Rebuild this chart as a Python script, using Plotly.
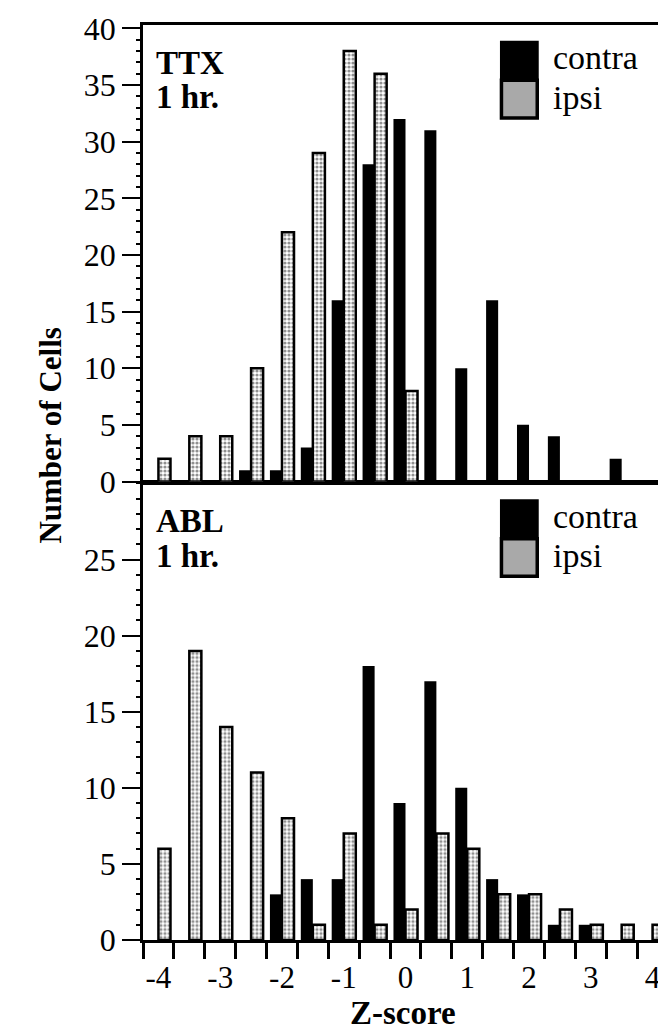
import plotly.graph_objects as go

# ---------------- data ----------------
z_bins = [-4, -3.5, -3, -2.5, -2, -1.5, -1, -0.5, 0, 0.5, 1, 1.5, 2, 2.5, 3, 3.5, 4]

ttx_contra = [0, 0, 0, 1, 1, 3, 16, 28, 32, 31, 10, 16, 5, 4, 0, 2, 0]
ttx_ipsi = [2, 4, 4, 10, 22, 29, 38, 36, 8, 0, 0, 0, 0, 0, 0, 0, 0]

abl_contra = [0, 0, 0, 0, 3, 4, 4, 18, 9, 17, 10, 4, 3, 1, 1, 0, 0]
abl_ipsi = [6, 19, 14, 11, 8, 1, 7, 1, 2, 7, 6, 3, 3, 2, 1, 1, 1]

x_tickvals = [-4, -3, -2, -1, 0, 1, 2, 3, 4]
x_ticktext = ["-4", "-3", "-2", "-1", "0", "1", "2", "3", "4"]
ttx_yticks = [0, 5, 10, 15, 20, 25, 30, 35, 40]
abl_yticks = [0, 5, 10, 15, 20, 25]

series_names = ["contra", "ipsi"]
panel_labels = [("TTX", "1 hr."), ("ABL", "1 hr.")]

# ---------------- layout geometry ----------------
W, H = 666, 1029
ML, MR, MT, MB = 135, 3, 6, 97
PW = W - ML - MR
PH = H - MT - MB

def py(pix):  # pixel y -> paper y
    return (H - MB - pix) / PH

def px(pix):  # pixel x -> paper x
    return (pix - ML) / PW

TOP_DOM = [py(468), 1.0]
BOT_DOM = [0.0, py(470)]

FONT = "Liberation Serif, Times New Roman, serif"

ipsi_marker = dict(
    color="white",
    line=dict(color="black", width=2.5),
    pattern=dict(shape=".", fgcolor="#222222", bgcolor="white", size=4, solidity=0.5),
)
contra_marker = dict(color="black", line=dict(color="black", width=0))

fig = go.Figure()
# top panel (TTX) on x2/y2
fig.add_trace(go.Bar(x=z_bins, y=ttx_contra, name=series_names[0], marker=contra_marker,
                     xaxis="x2", yaxis="y2", offsetgroup="c"))
fig.add_trace(go.Bar(x=z_bins, y=ttx_ipsi, name=series_names[1], marker=ipsi_marker,
                     xaxis="x2", yaxis="y2", offsetgroup="i"))
# bottom panel (ABL) on x/y
fig.add_trace(go.Bar(x=z_bins, y=abl_contra, name=series_names[0], marker=contra_marker,
                     xaxis="x", yaxis="y", offsetgroup="c"))
fig.add_trace(go.Bar(x=z_bins, y=abl_ipsi, name=series_names[1], marker=ipsi_marker,
                     xaxis="x", yaxis="y", offsetgroup="i"))

axis_common = dict(showline=True, linecolor="black", linewidth=2.5, mirror=True,
                   showgrid=False, zeroline=False)
xr = [-4.25, 4.25]
yminor = dict(tickmode="linear", tick0=0, dtick=1, ticks="outside",
              ticklen=4, tickwidth=1.5, tickcolor="black")

fig.update_layout(
    width=W, height=H,
    margin=dict(l=ML, r=MR, t=MT, b=MB),
    paper_bgcolor="white", plot_bgcolor="white",
    showlegend=False,
    barmode="group", bargap=0.22, bargroupgap=0.0,
    font=dict(family=FONT, color="black", size=31),
    xaxis=dict(domain=[0, 1], anchor="y", range=xr, tickmode="array",
               tickvals=x_tickvals, ticktext=x_ticktext, ticks="outside", ticklen=8,
               tickcolor="rgba(0,0,0,0)", tickfont=dict(size=31, family=FONT),
               minor=dict(tickmode="linear", tick0=-4.25, dtick=0.5, ticks="outside",
                          ticklen=16, tickwidth=2.5, tickcolor="black"),
               **axis_common),
    yaxis=dict(domain=BOT_DOM, anchor="x", range=[0, 30], tickmode="array",
               tickvals=abl_yticks, ticks="outside", ticklen=18, tickwidth=2,
               tickcolor="black", tickfont=dict(size=32, family=FONT),
               minor=yminor, **axis_common),
    xaxis2=dict(domain=[0, 1], anchor="y2", range=xr, matches="x", showticklabels=False,
                ticks="", **axis_common),
    yaxis2=dict(domain=TOP_DOM, anchor="x2", range=[0, 40.3], tickmode="array",
                tickvals=ttx_yticks, ticks="outside", ticklen=18, tickwidth=2,
                tickcolor="black", tickfont=dict(size=32, family=FONT),
                ticklabeloverflow="allow",
                minor=yminor, **axis_common),
)

annotations = []
shapes = []

# y-axis title
annotations.append(dict(text="<b>Number of Cells</b>", x=px(42), y=py(422), xref="paper",
                        yref="paper", textangle=-90, showarrow=False, xanchor="center",
                        yanchor="middle", font=dict(size=31, family=FONT)))
# x-axis title
annotations.append(dict(text="<b>Z-score</b>", x=px(396), y=py(1006), xref="paper",
                        yref="paper", showarrow=False, xanchor="center", yanchor="middle",
                        font=dict(size=33, family=FONT)))

# panel labels and legends
for (lab1, lab2), top in zip(panel_labels, [6, 470]):
    annotations.append(dict(text="<b>%s</b>" % lab1, x=px(146), y=py(top + 38), xref="paper",
                            yref="paper", showarrow=False, xanchor="left", yanchor="middle",
                            font=dict(size=33, family=FONT)))
    annotations.append(dict(text="<b>%s</b>" % lab2, x=px(146), y=py(top + 73), xref="paper",
                            yref="paper", showarrow=False, xanchor="left", yanchor="middle",
                            font=dict(size=33, family=FONT)))
    # legend swatches
    shapes.append(dict(type="rect", xref="paper", yref="paper",
                       x0=px(494), x1=px(533), y0=py(top + 16), y1=py(top + 56),
                       fillcolor="black", line=dict(color="black", width=0)))
    shapes.append(dict(type="rect", xref="paper", yref="paper",
                       x0=px(495.5), x1=px(531.5), y0=py(top + 56), y1=py(top + 94),
                       fillcolor="#a9a9a9", line=dict(color="black", width=3.5)))
    annotations.append(dict(text=series_names[0], x=px(545), y=py(top + 33), xref="paper",
                            yref="paper", showarrow=False, xanchor="left", yanchor="middle",
                            font=dict(size=34, family=FONT)))
    annotations.append(dict(text=series_names[1], x=px(545), y=py(top + 73), xref="paper",
                            yref="paper", showarrow=False, xanchor="left", yanchor="middle",
                            font=dict(size=34, family=FONT)))

fig.update_layout(annotations=annotations, shapes=shapes)

fig.write_html("out.html")
